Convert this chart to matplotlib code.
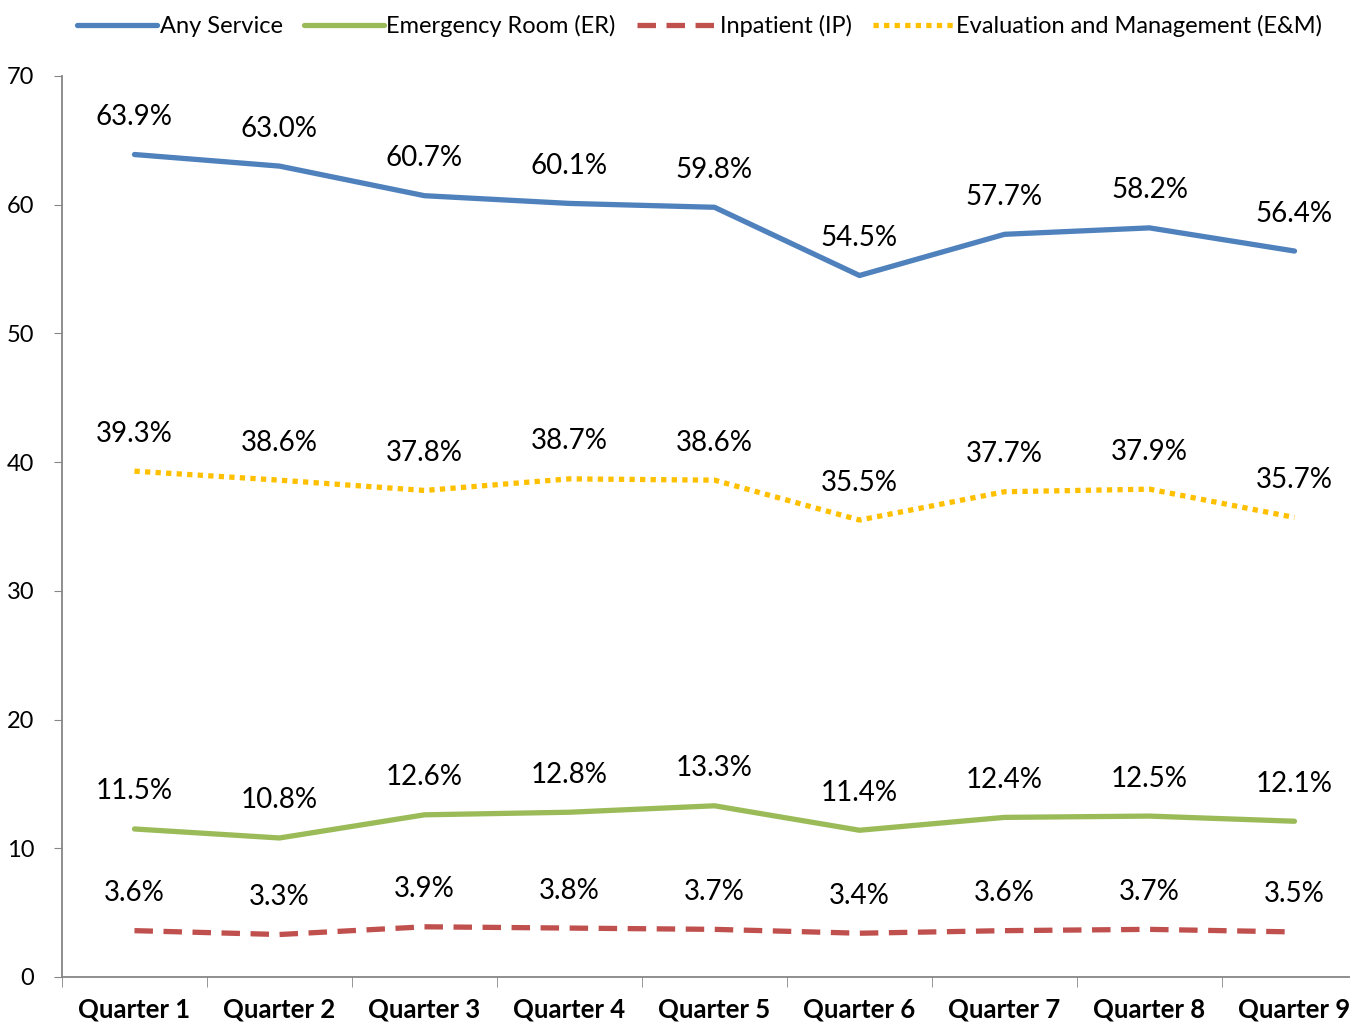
import numpy as np
import matplotlib.pyplot as plt

quarters = ["Quarter 1", "Quarter 2", "Quarter 3", "Quarter 4", "Quarter 5",
            "Quarter 6", "Quarter 7", "Quarter 8", "Quarter 9"]
any_service = [63.9, 63.0, 60.7, 60.1, 59.8, 54.5, 57.7, 58.2, 56.4]
er = [11.5, 10.8, 12.6, 12.8, 13.3, 11.4, 12.4, 12.5, 12.1]
ip = [3.6, 3.3, 3.9, 3.8, 3.7, 3.4, 3.6, 3.7, 3.5]
em = [39.3, 38.6, 37.8, 38.7, 38.6, 35.5, 37.7, 37.9, 35.7]
y_ticks = [0, 10, 20, 30, 40, 50, 60, 70]


def main():
    plt.rcParams["font.family"] = ["Lato", "DejaVu Sans"]
    fig = plt.figure(figsize=(13.5, 10.27), dpi=100)
    ax = fig.add_axes([0.0459, 0.0487, 0.9667, 0.8773])

    x = np.arange(len(quarters))
    series = [
        ("Any Service", any_service, "#4F81BD", "-"),
        ("Emergency Room (ER)", er, "#9BBB59", "-"),
        ("Inpatient (IP)", ip, "#C0504D", (0, (3.5, 2.0))),
        ("Evaluation and Management (E&M)", em, "#FFC000", (0, (1, 1))),
    ]
    for name, vals, color, ls in series:
        ax.plot(x, vals, color=color, lw=3.8, ls=ls, label=name,
                solid_capstyle="round")
        for xi, v in zip(x, vals):
            ax.annotate(f"{v:.1f}%", (xi, v), xytext=(0, 27),
                        textcoords="offset points", ha="center", va="center",
                        fontsize=20)

    ax.set_xlim(-0.5, 8.5)
    ax.set_ylim(0, 70)
    ax.set_yticks(y_ticks)
    ax.tick_params(axis="y", labelsize=17, length=6, color="#868686", pad=14)
    ax.set_xticks(x)
    ax.set_xticklabels(quarters, fontsize=18.5, fontweight="bold")
    ax.set_xticks(np.arange(-0.5, 8.5, 1.0), minor=True)
    ax.tick_params(axis="x", which="major", length=0, pad=15)
    ax.tick_params(axis="x", which="minor", length=7, color="#868686")
    for side in ["top", "right"]:
        ax.spines[side].set_visible(False)
    for side in ["left", "bottom"]:
        ax.spines[side].set_color("#868686")
        ax.spines[side].set_linewidth(1.3)

    fig.legend(loc="upper center", bbox_to_anchor=(0.518, 1.006), ncol=4,
               frameon=False, fontsize=17, handlelength=3.4,
               handletextpad=0.1, columnspacing=0.9)

    fig.savefig("out.png", dpi=100)


if __name__ == "__main__":
    main()
